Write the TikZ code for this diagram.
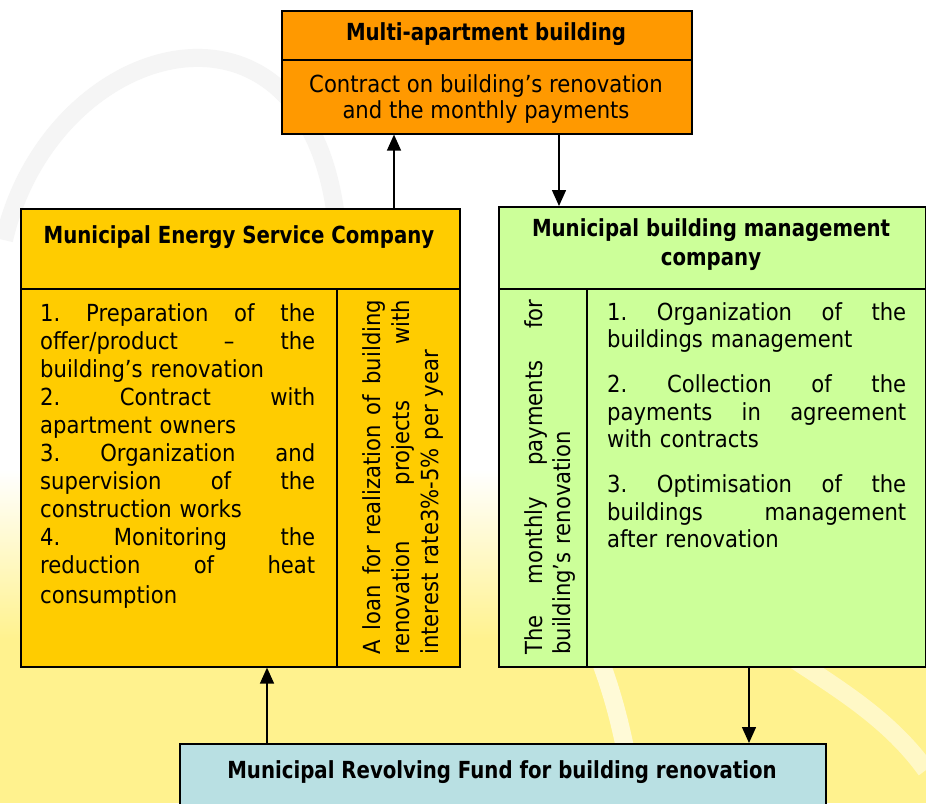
\documentclass[tikz,border=0pt]{standalone}
\usepackage{fontspec}
\setmainfont{DejaVu Sans}[FakeStretch=0.9, BoldFeatures={FakeStretch=0.84}]
\usetikzlibrary{arrows.meta}
\definecolor{corange}{HTML}{FF9900}
\definecolor{cyellow}{HTML}{FFCC00}
\definecolor{cgreen}{HTML}{CCFF99}
\definecolor{cblue}{HTML}{B9E0E3}
\definecolor{bgyellow}{HTML}{FFF28E}
\definecolor{wmgray}{HTML}{F5F5F5}
\newlength\jwidth
\newcommand\jline[1]{\leavevmode{\spaceskip=0.3em plus 20em\relax\xspaceskip=\spaceskip\hbox to \jwidth{#1}}}
\tikzset{
  box/.style={draw=black, line width=1.6pt, inner sep=0pt, anchor=north west},
  divline/.style={draw=black, line width=1.3pt},
  arr/.style={line width=1.5pt, -{Triangle[width=14pt,length=16pt]}},
  txt/.style={inner sep=0pt, font=\fontsize{23.5}{28}\selectfont},
  btxt/.style={inner sep=0pt, font=\fontsize{23.5}{29}\selectfont\bfseries},
}
\begin{document}
\begin{tikzpicture}[x=1pt,y=-1pt]
\useasboundingbox (0,0) rectangle (926,803);
\clip (0,0) rectangle (926,803);
% background
\fill[white] (0,0) rectangle (926,803);
\shade[top color=white, bottom color=bgyellow] (0,470) rectangle (926,640);
\fill[bgyellow] (0,640) rectangle (926,803);
\draw[wmgray, line width=18pt] (4,240) .. controls (50,40) and (300,-30) .. (335,210);
\draw[white, opacity=0.65, line width=18pt] (600,660) .. controls (615,700) and (625,740) .. (635,803);
\draw[white, opacity=0.5, line width=18pt] (795,660) .. controls (840,690) and (890,720) .. (926,770);

% boxes
\node[box, fill=corange, minimum width=410pt, minimum height=123pt] (mab) at (281,10) {};
\node[box, fill=cyellow, minimum width=439pt, minimum height=458pt] (esco) at (20,208) {};
\node[box, fill=cgreen, minimum width=427pt, minimum height=460pt] (mbmc) at (498,206) {};
\node[box, fill=cblue, minimum width=646pt, minimum height=90pt] (fund) at (179,743) {};

% dividers
\draw[divline] (281,60) -- (691,60);
\draw[divline] (20,289) -- (459,289);
\draw[divline] (337,289) -- (337,666);
\draw[divline] (498,289) -- (925,289);
\draw[divline] (587,289) -- (587,666);

% texts
\node[btxt, anchor=base] (mabh) at (486,40) {Multi-apartment building};
\node[txt, anchor=base, align=center, font=\fontsize{23.5}{26}\selectfont] (mabt) at (486,118)
  {Contract on building’s renovation\\and the monthly payments};

\node[btxt, anchor=base] (escoh) at (239,243) {Municipal Energy Service Company};
\node[txt, anchor=base west, text width=275pt, align=left] (escol) at (40,321)
  {\setlength\jwidth{275pt}%
   \jline{1. Preparation of the}\\
   \jline{offer/product – the}\\
   building’s renovation\\
   \jline{2. Contract with}\\
   apartment owners\\
   \jline{3. Organization and}\\
   \jline{supervision of the}\\
   construction works\\
   \jline{4. Monitoring the}\\
   \jline{reduction of heat}\\[2pt]
   consumption};
\node[txt, rotate=90, anchor=base west, text width=355pt, align=left, font=\fontsize{23.5}{29}\selectfont] (escov) at (380,655)
  {\setlength\jwidth{355pt}%
   \jline{A loan for realization of building}\\
   \jline{renovation projects with}\\
   interest rate3\%-5\% per year};

\node[btxt, anchor=base, align=center] (mbmch) at (711,265) {Municipal building management\\company};
\node[txt, rotate=90, anchor=base west, text width=355pt, align=left] (mbmcv) at (542,655)
  {\setlength\jwidth{355pt}%
   \jline{The monthly payments for}\\
   building’s renovation};
\node[txt, anchor=base west, text width=299pt, align=left, font=\fontsize{23.5}{27.5}\selectfont] (mbmcl) at (607,320)
  {\setlength\jwidth{299pt}%
   \jline{1. Organization of the}\\
   buildings management\\[17.5pt]
   \jline{2. Collection of the}\\
   \jline{payments in agreement}\\
   with contracts\\[17.5pt]
   \jline{3. Optimisation of the}\\
   \jline{buildings management}\\
   after renovation};

\node[btxt, anchor=base] (fundt) at (502,778) {Municipal Revolving Fund for building renovation};

% connectors
\coordinate (xa) at (394,0);
\coordinate (xb) at (559,0);
\coordinate (xc) at (267,0);
\coordinate (xd) at (749,0);
\draw[arr] (esco.north -| xa) -- (mab.south -| xa);
\draw[arr] (mab.south -| xb) -- (mbmc.north -| xb);
\draw[arr] (fund.north -| xc) -- (esco.south -| xc);
\draw[arr] (mbmc.south -| xd) -- (fund.north -| xd);
\end{tikzpicture}
\end{document}
